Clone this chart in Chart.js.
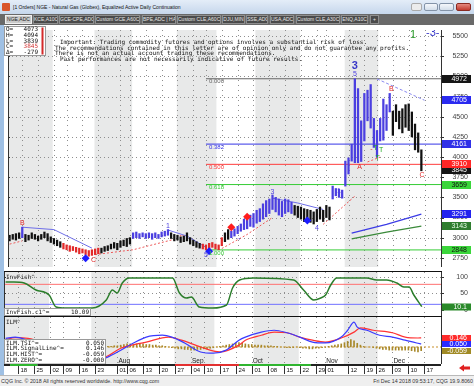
<!DOCTYPE html>
<html>
<head>
<meta charset="utf-8">
<title>NGE daily</title>
<script src="https://cdn.jsdelivr.net/npm/chart.js@4.4.1/dist/chart.umd.min.js"></script>
<style>
  html, body { margin: 0; padding: 0; }
  body { width: 474px; height: 386px; overflow: hidden; position: relative; background: #fff; font-family: "Liberation Sans", Arial, sans-serif; }
  .abs { position: absolute; }
  #title { left: 0; top: 0; width: 474px; height: 14px; background: linear-gradient(#e4edf8, #c6d7ec); font-size: 5px; line-height: 14px; color: #111; }
  #title .txt { position: absolute; left: 13px; top: 0; white-space: nowrap; }
  #title .ico { position: absolute; left: 2px; top: 3px; width: 8px; height: 8px; background: #d9552b; border-radius: 1px; }
  .btn { position: absolute; top: 3px; height: 8px; border: 1px solid #8393a8; border-radius: 2px; background: linear-gradient(#f4f7fb, #d3deea); box-sizing: border-box; }
  #tabs { left: 0; top: 14px; width: 474px; height: 11px; background: #696969; }
  .tab { position: absolute; top: 1px; height: 9px; box-sizing: border-box; border: 1px solid #8e8e8e; background: #4a4a4a; color: #e6e6e6; font-size: 5px; line-height: 7px; text-align: center; white-space: nowrap; overflow: hidden; }
  .tab.on { background: #cacaca; color: #222; border-color: #efefef; }
  #frame { left: 0; top: 25px; width: 4px; height: 350px; background: #9fc0e4; }
  .sep { left: 4px; width: 438px; height: 1px; background: #111; }
  canvas { position: absolute; left: 4px; }
  #footer { left: 0; top: 375px; width: 474px; height: 11px; background: #efefef; border-top: 1px solid #b9b9b9; box-sizing: border-box; font-size: 5.3px; line-height: 10px; color: #333; white-space: nowrap; }
</style>
</head>
<body>
<div id="title" class="abs">
  <span class="ico"></span>
  <span class="txt">[1 Orders] NGE - Natural Gas (Globex), Equalized Active Daily Continuation</span>
  <span class="btn" style="left:411px;width:11px;border-color:#aaa;background:#ececec"></span>
  <span class="btn" style="left:424px;width:14px"></span>
  <span class="btn" style="left:439px;width:15px"></span>
  <span class="btn" style="left:456px;width:15px;background:linear-gradient(#e58a80,#c23b30);border-color:#8a2a22"></span>
</div>
<div id="tabs" class="abs"></div>
<div id="frame" class="abs"></div>
<canvas id="cPrice" width="470" height="245" style="top:26px"></canvas>
<div class="abs sep" style="top:271px"></div>
<canvas id="cFish" width="470" height="44" style="top:272px"></canvas>
<div class="abs sep" style="top:316px"></div>
<canvas id="cIlm" width="470" height="58" style="top:317px"></canvas>
<div id="footer" class="abs">
  <span style="position:absolute;left:1px">CQG Inc. © 2018 All rights reserved worldwide. http://www.cqg.com</span>
  <span style="position:absolute;right:1px">Fri Dec 14 2018 09:53:17, CQG 19.9.8060</span>
</div>

<script>
// ---- data ----
const tabNames = ['NGE,ADC', 'KCE,A10C', 'GCE-CPE,ADC', 'Custom GCE,A60C', 'BPE,ADC | HA', 'Custom CLE,A60C',
  'DJU,MIN', 'SSE,ADC', 'USA,ADC', 'Custom CLE,A30C', 'ENQ,A10C', '+'];

// daily bars Jun 12 .. Dec 14 (index 0..130)
const barLow = [
  2960, 2980, 2970, 2990, 3000, 2950, 2970, 2990, 2980, 2960, 2980, 3000,
  2960, 2940, 2920, 2900, 2880,
  2860, 2850, 2830, 2840, 2820, 2800, 2810, 2790, 2770, 2780,
  2790, 2800, 2810, 2830, 2840, 2860, 2870, 2850, 2880, 2900, 2890, 2920,
  2990, 3000, 2990, 3010, 2990, 3000, 2980, 3000, 2990, 3010, 3020, 3030,
  2990, 2960, 2970, 2940, 2950, 2960, 2920, 2900, 2880, 2870,
  2860, 2848, 2860, 2880, 2860, 2850,
  2900, 2950, 2980, 3000, 3020, 3050, 3080, 3100, 3110, 3140, 3130, 3180, 3200,
  3230, 3260, 3300, 3350, 3320, 3280, 3260, 3300, 3320, 3300,
  3280, 3250, 3230, 3200, 3220, 3190, 3170, 3200, 3230, 3200, 3250, 3220,
  3480, 3520, 3500, 3490,
  3640, 3790, 3950, 3930, 3930, 3945, 4200, 4450, 4360, 4120, 4000, 4200, 4210, 4330, 4560,
  4270, 4440, 4350, 4300, 4370, 4330, 4250, 4090, 4060, 3830
];
const barHigh = [
  3030, 3040, 3050, 3060, 3130, 3040, 3030, 3060, 3040, 3020, 3040, 3070,
  3050, 3010, 2990, 2970, 2950,
  2930, 2910, 2900, 2890, 2880, 2870, 2860, 2850, 2840, 2850,
  2860, 2870, 2870, 2890, 2900, 2920, 2940, 2930, 2960, 2970, 2990, 3000,
  3060, 3070, 3050, 3060, 3050, 3060, 3050, 3060, 3040, 3070, 3080, 3100,
  3060, 3040, 3030, 3010, 3020, 3060, 3000, 2970, 2950, 2930,
  2920, 2910, 2930, 2940, 2920, 2910,
  3000, 3060, 3100, 3080, 3110, 3140, 3170, 3230, 3260, 3280, 3300, 3340, 3360,
  3420, 3460, 3480, 3530, 3500, 3480, 3450, 3480, 3470, 3440,
  3400, 3390, 3380, 3360, 3350, 3340, 3320, 3350, 3380, 3340, 3400, 3380,
  3640, 3610, 3600, 3590,
  3950, 3990, 4160, 4972, 4850, 4450, 4790, 4830, 4900, 4480, 4330, 4480, 4720, 4650, 4790,
  4570, 4650, 4570, 4600, 4650, 4660, 4560, 4410, 4300, 4090
];
// bar colour runs [colour, count]
const K = '#111', R = '#e22a2a', B = '#4b3fe0';
const barRuns = [[K, 4], [B, 1], [K, 12], [R, 12], [K, 10], [B, 12], [K, 10], [R, 7], [K, 2], [B, 20], [K, 12], [B, 19], [K, 10]];

// overlay study lines, [bar index, price]
const upperA = [[4, 3130], [14, 3100], [26, 2870]];
const upperB = [[50, 3095], [56, 3020], [62, 2880]];
const upperC = [[83, 3490], [91, 3430], [99, 3350]];
const lowerA = [[0, 2920], [4, 2960]];
const lowerB = [[27, 2790], [39, 2850], [52, 2980]];
const lowerC = [[67, 2865], [75, 3040], [83, 3250]];
const lowerD = [[99, 3165], [109, 3515]];
const lowerE = [[113, 3940], [117, 4000]];
const downTrend = [[116, 4970], [131, 4705]];
const maFast = [[108, 3057], [119, 3165], [130, 3291]];
const maSlow = [[108, 2985], [119, 3070], [130, 3143]];
const blueDiamonds = [[24, 2745], [63, 2830], [94, 3213]];
const redDiamonds = [[70, 3130], [75, 3260]];

// fibonacci retracement from swing low (bar 62) to swing high (bar 109)
const fibStart = 62;
const fibLevels = [4972, 4161, 3910, 3659, 2848];
const fibNames = ['0.000', '0.382', '0.500', '0.618', '1.000'];
const fibColors = ['#666', '#3434e6', '#ff3b3b', '#36cc36', '#36cc36'];

// wave / pattern marks [bar index, price, text, colour, font]
const priceMarks = [
  [4, 3177, 'B', R], [26.5, 2721, 'C', R], [27, 2575, '2', B, 'bold 11px'],
  [50, 3141, '1', B], [62, 2790, '5', B], [83, 3560, '3', B], [97, 3117, '4', B], [104, 3573, '1', B],
  [109, 5133, '3', '#3838c8', 'bold 11px'], [109, 5028, '5', B],
  [110.5, 3873, 'A', R], [120.5, 4850, 'B', R], [130.2, 3777, 'C', R],
  [114.2, 4100, '-', R], [115.5, 4113, 'T', '#22aa22'], [117.3, 4090, 'T', '#22aa22'], [116.2, 3990, 'T', '#22aa22'],
  [127.4, 5511, '1', '#2a9a2a', '11px'], [133.6, 5540, '-3-', '#3838c8', '11px'],
  [54.4, 3033, '\u2190', R], [72.2, 2997, '\u2192', B]
];
const priceTicks = [2750, 3000, 3250, 3500, 3750, 4000, 4250, 4500, 4750, 5000, 5250, 5500];
const priceBoxes = [
  [4972, '4972', '#151515', '#fff'], [4705, '4705', '#2a2af0', '#fff'], [4161, '4161', '#3030e8', '#fff'],
  [3845, '3845', '#151515', '#fff'], [3910, '3910', '#ff2626', '#fff'], [3659, '3659', '#3ad63a', '#111'],
  [3291, '3291', '#2222ee', '#fff'], [3143, '3143', '#2f7d2f', '#e8ffe8'], [2848, '2848', '#3ad63a', '#111']
];
const ohlcNames = ['O=', 'H=', 'L=', 'C=', '\u0394='];
const ohlcValues = ['4073', '4094', '3839', '3845', '-279'];
const disclaimer = [
  'Important: Trading commodity futures and options involves a substantial risk of loss.',
  'The recommendations contained in this letter are of opinion only and do not guarantee any profits.',
  'There is not an actual account trading these recommendations.',
  'Past performances are not necessarily indicative of future results.'
];

// InvFish oscillator, [bar index, value]
const invFish = [[0, 84], [2.6, 84], [5.8, 81], [9.5, 60], [13.6, 45], [15.8, 9], [18.9, 6], [27.1, 6], [31.5, 30],
  [33.4, 60], [34.9, 51], [36.5, 81], [38.7, 96], [52.2, 96], [54.4, 51], [56.6, 36], [58.1, 39], [60.6, 9],
  [64.7, 6], [69.1, 15], [71, 66], [73.2, 90], [77.6, 96], [90.1, 90], [93.2, 60], [96.4, 30], [98.6, 36],
  [100.1, 45], [101.7, 75], [103.6, 96], [113, 96], [116.1, 90], [119.2, 90], [122.4, 81], [124.6, 69],
  [126.2, 69], [127.7, 45], [130.2, 10.1]];
const fishLevels = [77, 17];

// ILM study
const ilmTsi = [[0, 0.14], [3, 0.16], [7, 0.11], [13, 0.0], [20, -0.14], [26, -0.21], [31, -0.18], [35, -0.08],
  [40, 0.065], [44, 0.16], [49, 0.19], [52, 0.16], [56, 0.065], [61, -0.08], [65, -0.10], [69, -0.05], [73, 0.11],
  [75, 0.16], [80, 0.24], [84, 0.27], [88, 0.23], [92, 0.16], [96, 0.08], [100, 0.065], [105, 0.16], [107, 0.27],
  [109, 0.40], [110, 0.32], [113, 0.27], [117, 0.19], [121, 0.16], [125, 0.11], [128.6, 0.065], [130, 0.05]];
const ilmSignal = [[0, 0.12], [3, 0.15], [7, 0.14], [13, 0.05], [20, -0.09], [27, -0.17], [31, -0.16], [36, -0.02],
  [44, 0.08], [51, 0.16], [55, 0.11], [61, 0.0], [67, -0.08], [73, 0.03], [75, 0.11], [80, 0.19], [84, 0.24],
  [88, 0.23], [92, 0.16], [96, 0.11], [100, 0.08], [105, 0.145], [109, 0.24], [111, 0.31], [115, 0.27],
  [121, 0.23], [125, 0.16], [129, 0.145], [130, 0.146]];
const histStart = 31;
const ilmHist = [
  0.00, 0.01, 0.01, 0.02, 0.02, 0.03, 0.04, 0.05, 0.05, 0.04,
  0.05, 0.06, 0.05, 0.04, 0.04, 0.03, 0.03, 0.02, 0.02, 0.01,
  0.00, -0.01, -0.02, -0.03, -0.03, -0.04, -0.04, -0.05, -0.05, -0.04,
  -0.04, -0.03, -0.03, -0.02, -0.01, 0.00, 0.01, 0.02, 0.03, 0.04,
  0.05, 0.06, 0.07, 0.06, 0.05, 0.04, 0.04, 0.03, 0.03, 0.03,
  0.02, 0.02, 0.02, 0.01, 0.01, 0.00, 0.00, -0.01, -0.01, -0.01,
  0.00, -0.01, -0.02, -0.02, -0.03, -0.03, -0.02, -0.02, -0.01, 0.00,
  0.01, 0.02, 0.03, 0.04, 0.05, 0.07, 0.09, 0.12, 0.10, 0.06,
  0.03, 0.01, 0.00, 0.00, -0.01, -0.02, -0.03, -0.04, -0.04, -0.05,
  -0.05, -0.05, -0.05, -0.05, -0.05, -0.05, -0.06, -0.07, -0.08, -0.059
];
const ilmNames = ['ILM.TSI^=', 'ILM.SignalLine^=', 'ILM.HIST^=', 'ILM.ZERO^='];
const ilmValues = ['0.050', '0.146', '-0.059', '-0.000'];

// time axis
const weekIdx = [4, 9, 14, 18, 23, 28, 35, 38, 43, 48, 53, 58, 62, 67, 72, 77, 82, 87, 92, 97, 100, 107, 112, 116, 121, 126, 131];
const weekLbl = ['18', '25', '02', '09', '16', '23', '01', '06', '13', '20', '27', '04', '10', '17', '24', '01', '08', '15', '22', '29', '01', '12', '19', '26', '03', '10', '17'];
const monthIdx = [35, 58, 77, 100, 121];
const monthLbl = ['Aug', 'Sep', 'Oct', 'Nov', 'Dec'];
const shadeBands = [[-0.5, 13.6], [26.8, 38.7], [52.8, 65.3], [77.6, 91.7], [105.8, 116.4]];
const stripRuns = [[-0.5, 1.4, '#222'], [1.4, 10, '#2fb52f'], [10, 53, '#222'], [53, 73, '#e33030'], [73, 95.5, '#2fb52f'], [95.5, 136.2, '#222']];

// ---- drawing ----
const SANS = '"Liberation Sans", Arial, sans-serif';
const MONO = '"DejaVu Sans Mono", monospace';
const XMIN = -0.5, XMAX = 136.2, AXW = 33;

// tab strip
const tabPos = [[5, 27], [33, 25], [59, 35], [95, 45], [142, 34], [177, 44], [222, 23], [246, 22], [270, 24], [296, 44], [341, 27], [370, 9]];
tabNames.forEach((n, k) => {
  const el = document.createElement('div');
  el.className = 'tab' + (k === 0 ? ' on' : '');
  el.style.left = tabPos[k][0] + 'px';
  el.style.width = tabPos[k][1] + 'px';
  el.textContent = n;
  document.getElementById('tabs').appendChild(el);
});

function txt(ctx, s, px, py, font, color, align, base) {
  ctx.font = font;
  ctx.fillStyle = color;
  ctx.textAlign = align || 'center';
  ctx.textBaseline = base || 'middle';
  ctx.fillText(s, px, py);
}

function makeDecor(cfg) {
  return {
    id: 'decor',
    beforeDatasetsDraw(chart) {
      const { ctx, chartArea: a, scales: { x, y } } = chart;
      ctx.save();
      ctx.fillStyle = '#e8e9e9';
      shadeBands.forEach(([f, t]) => {
        const x0 = Math.max(a.left, x.getPixelForValue(f));
        const x1 = Math.min(a.right, x.getPixelForValue(t));
        if (x1 > x0) ctx.fillRect(x0, a.top, x1 - x0, a.bottom - a.top);
      });
      ctx.strokeStyle = '#8e8e8e';
      ctx.lineWidth = 1;
      ctx.setLineDash([1, 3]);
      (cfg.hGrid || []).forEach(v => {
        const py = Math.round(y.getPixelForValue(v)) + 0.5;
        ctx.beginPath(); ctx.moveTo(a.left, py); ctx.lineTo(a.right, py); ctx.stroke();
      });
      ctx.setLineDash([1, 4]);
      weekIdx.forEach(i => {
        const px = Math.round(x.getPixelForValue(i)) + 0.5;
        ctx.beginPath(); ctx.moveTo(px, a.top); ctx.lineTo(px, a.bottom); ctx.stroke();
      });
      ctx.restore();
    },
    afterDraw(chart) {
      const { ctx, chartArea: a, scales: { x, y } } = chart;
      ctx.save();
      ctx.setLineDash([]);
      ctx.strokeStyle = '#333';
      ctx.lineWidth = 1;
      ctx.beginPath();
      ctx.moveTo(a.left + 0.5, a.top); ctx.lineTo(a.left + 0.5, a.bottom);
      ctx.moveTo(a.right + 0.5, a.top); ctx.lineTo(a.right + 0.5, a.bottom);
      ctx.stroke();
      (cfg.ticks || []).forEach(([v, s]) => {
        const py = y.getPixelForValue(v);
        const ry = Math.round(py) + 0.5;
        ctx.beginPath();
        ctx.moveTo(a.right, ry); ctx.lineTo(a.right + 3, ry);
        ctx.moveTo(a.left, ry); ctx.lineTo(a.left + 2, ry);
        ctx.stroke();
        txt(ctx, s, 464, py, '7px ' + SANS, '#444', 'right');
      });
      (cfg.boxes || []).forEach(([v, s, bg, fg]) => {
        const py = Math.round(y.getPixelForValue(v));
        const h = cfg.boxH || 8;
        ctx.fillStyle = bg;
        ctx.fillRect(a.right + 1, py - h / 2, 29, h);
        txt(ctx, s, 463, py + 0.5, '7px ' + SANS, fg, 'right');
      });
      ctx.save();
      ctx.beginPath();
      ctx.rect(a.left, a.top, a.right - a.left, a.bottom - a.top);
      ctx.clip();
      (cfg.marks || []).forEach(([i, v, s, color, font]) => {
        txt(ctx, s, x.getPixelForValue(i), y.getPixelForValue(v), (font || '7px') + ' ' + SANS, color);
      });
      if (cfg.inside) cfg.inside(ctx, chart);
      ctx.restore();
      if (cfg.overlay) cfg.overlay(ctx, chart);
      ctx.restore();
    }
  };
}

const pts = arr => arr.map(([px, py]) => ({ x: px, y: py }));
const lineDs = (arr, color, w, dash, smooth) => ({
  type: 'line', data: pts(arr), borderColor: color, borderWidth: w, borderDash: dash || [],
  pointRadius: 0, fill: false, tension: 0, cubicInterpolationMode: smooth ? 'monotone' : 'default'
});
const dotDs = (arr, color) => ({
  type: 'line', data: pts(arr), showLine: false, pointStyle: 'rectRot', pointRadius: 4,
  pointBackgroundColor: color, pointBorderWidth: 0
});
const baseOpts = (ymin, ymax, padBottom) => ({
  responsive: false, animation: false, events: [], devicePixelRatio: 1,
  layout: { padding: { left: 0, right: AXW, top: 0, bottom: padBottom || 0 } },
  plugins: { legend: { display: false }, tooltip: { enabled: false } },
  scales: {
    x: { type: 'linear', min: XMIN, max: XMAX, display: false, offset: false },
    y: { type: 'linear', min: ymin, max: ymax, display: false }
  }
});

// ---- price panel ----
const barColors = [];
barRuns.forEach(([c, n]) => { for (let k = 0; k < n; k++) barColors.push(c); });

const priceSets = [
  dotDs(blueDiamonds, '#1c1cff'),
  dotDs(redDiamonds, '#ff1c1c'),
  {
    type: 'bar', data: barLow.map((lo, i) => ({ x: i, y: [lo, barHigh[i]] })),
    backgroundColor: barColors, barThickness: 1.6, grouped: false, borderWidth: 0
  },
  lineDs(upperA, '#6f6fe8', 1), lineDs(upperB, '#6f6fe8', 1), lineDs(upperC, '#6f6fe8', 1),
  lineDs(lowerA, '#ee5a5a', 1, [2, 2]), lineDs(lowerB, '#ee5a5a', 1, [2, 2]), lineDs(lowerC, '#ee5a5a', 1, [2, 2]),
  lineDs(lowerD, '#ee5a5a', 1, [2, 2]), lineDs(lowerE, '#ee5a5a', 1, [2, 2]),
  lineDs(downTrend, '#8a8af0', 1, [3, 2]),
  lineDs(maFast, '#3c3ce6', 1.3), lineDs(maSlow, '#3a8a3a', 1.3)
];
fibLevels.forEach((v, k) => priceSets.push(lineDs([[fibStart, v], [XMAX, v]], fibColors[k], 1)));

new Chart(document.getElementById('cPrice'), {
  type: 'bar',
  data: { datasets: priceSets },
  options: baseOpts(2636, 5577),
  plugins: [makeDecor({
    hGrid: priceTicks,
    ticks: priceTicks.map(v => [v, String(v)]),
    boxes: priceBoxes,
    marks: priceMarks,
    inside(ctx, chart) {
      const { x, y } = chart.scales;
      fibLevels.forEach((v, k) => {
        txt(ctx, fibNames[k], x.getPixelForValue(fibStart) + 3, y.getPixelForValue(v) + 3, '6px ' + SANS, fibColors[k], 'left');
      });
      const lx = [56, 51, 51, 56];
      disclaimer.forEach((s, k) => txt(ctx, s, lx[k], 16.5 + k * 5.6, '6px ' + MONO, '#111', 'left'));
    },
    overlay(ctx) {
      ctx.fillStyle = '#fff';
      ctx.fillRect(0.5, 0.5, 41, 29);
      ctx.strokeStyle = '#999';
      ctx.strokeRect(0.5, 0.5, 41, 29);
      ohlcNames.forEach((n, k) => {
        txt(ctx, n, 2, 3.5 + k * 5.8, '6px ' + MONO, '#111', 'left');
        txt(ctx, ohlcValues[k], 34, 3.5 + k * 5.8, '6px ' + MONO, k === 3 ? '#d03030' : '#111', 'right');
      });
      ctx.fillStyle = '#d42a2a';
      ctx.fillRect(37.5, 1.5, 2, 27);
    }
  })]
});

// ---- InvFish panel ----
new Chart(document.getElementById('cFish'), {
  type: 'line',
  data: {
    datasets: [
      lineDs(invFish, '#2b7d2b', 1.5, null, true),
      lineDs([[XMIN, fishLevels[0]], [XMAX, fishLevels[0]]], '#ff7070', 1),
      lineDs([[XMIN, fishLevels[1]], [XMAX, fishLevels[1]]], '#7070ff', 1)
    ]
  },
  options: baseOpts(-18, 114),
  plugins: [makeDecor({
    hGrid: [50, 100],
    ticks: [[100, '100'], [50, '50'], [0, '0']],
    boxes: [[10.1, '10.1', '#2a8a2a', '#fff']],
    boxH: 7,
    overlay(ctx) {
      txt(ctx, 'InvFish^', 2, 5, '6px ' + MONO, '#222', 'left');
      ctx.fillStyle = '#fff';
      ctx.fillRect(0.5, 36.5, 86, 7);
      ctx.strokeStyle = '#999';
      ctx.strokeRect(0.5, 36.5, 86, 7);
      txt(ctx, 'InvFish.c1^=', 2, 40, '6px ' + MONO, '#111', 'left');
      txt(ctx, '10.09', 85, 40, '6px ' + MONO, '#111', 'right');
    }
  })]
});

// ---- ILM panel + time axis ----
new Chart(document.getElementById('cIlm'), {
  type: 'line',
  data: {
    datasets: [
      lineDs(ilmTsi, '#3a3aff', 1.2, null, true),
      lineDs(ilmSignal, '#ff3434', 1.2, null, true),
      {
        type: 'bar', data: ilmHist.map((v, k) => ({ x: histStart + k, y: v })),
        backgroundColor: '#a8892a', barThickness: 1, grouped: false, borderWidth: 0
      },
      lineDs([[XMIN, 0], [XMAX, 0]], '#c8902a', 1, [2, 2])
    ]
  },
  options: baseOpts(-0.2742, 0.4839, 11),
  plugins: [makeDecor({
    boxes: [[0.146, '0.146', '#ff2a2a', '#fff'], [0.05, '0.050', '#2a2aff', '#fff'], [-0.059, '-0.059', '#a08a24', '#fff']],
    boxH: 6,
    inside(ctx, chart) {
      const { x, chartArea: a } = chart;
      monthIdx.forEach((i, k) => txt(ctx, monthLbl[k], chart.scales.x.getPixelForValue(i) + 1, a.bottom - 3, '6.5px ' + SANS, '#222', 'left'));
    },
    overlay(ctx, chart) {
      const { x } = chart.scales;
      const a = chart.chartArea;
      txt(ctx, 'ILM^', 2, 5, '6px ' + MONO, '#222', 'left');
      ctx.fillStyle = '#fff';
      ctx.fillRect(0.5, 22.5, 101, a.bottom - 22.5);
      ctx.strokeStyle = '#999';
      ctx.strokeRect(0.5, 22.5, 101, a.bottom - 22.5);
      ilmNames.forEach((n, k) => {
        txt(ctx, n, 2, 26 + k * 5.7, '6px ' + MONO, '#111', 'left');
        txt(ctx, ilmValues[k], 100, 26 + k * 5.7, '6px ' + MONO, '#111', 'right');
      });
      // colour strip under the panel
      stripRuns.forEach(([f, t, c]) => {
        const x0 = Math.max(a.left, x.getPixelForValue(f));
        const x1 = Math.min(a.right, x.getPixelForValue(t));
        ctx.fillStyle = c;
        ctx.fillRect(x0, a.bottom, x1 - x0, 2);
      });
      // week ticks and day labels
      ctx.strokeStyle = '#333';
      ctx.lineWidth = 1;
      weekIdx.forEach((i, k) => {
        const px = Math.round(x.getPixelForValue(i)) + 0.5;
        ctx.beginPath(); ctx.moveTo(px, a.bottom + 2); ctx.lineTo(px, a.bottom + 10); ctx.stroke();
        txt(ctx, weekLbl[k], px + 2, a.bottom + 6.5, '6px ' + SANS, '#111', 'left');
      });
      // red arrow at right of the time axis
      ctx.fillStyle = '#e02020';
      ctx.beginPath();
      ctx.moveTo(455, 51); ctx.lineTo(460, 47.5); ctx.lineTo(460, 49.5); ctx.lineTo(466, 49.5);
      ctx.lineTo(466, 52.5); ctx.lineTo(460, 52.5); ctx.lineTo(460, 54.5); ctx.closePath();
      ctx.fill();
    }
  })]
});
</script>
</body>
</html>
